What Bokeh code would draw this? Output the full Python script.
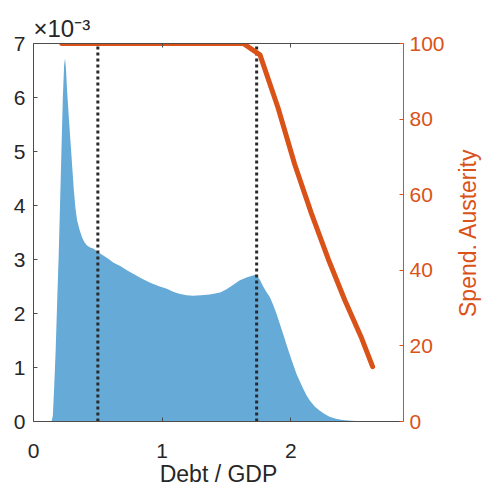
import math
from bokeh.plotting import figure
from bokeh.models import Range1d, LinearAxis, FixedTicker, Title
from bokeh.embed import file_html
from bokeh.resources import INLINE

# ---- data ----
debt_x = [0.140, 0.150, 0.160, 0.172, 0.185, 0.196, 0.206, 0.217, 0.228, 0.238,
          0.245, 0.252, 0.261, 0.274, 0.287, 0.300, 0.313, 0.326, 0.339, 0.358,
          0.377, 0.396, 0.416, 0.440, 0.468, 0.506, 0.545, 0.584, 0.622, 0.674,
          0.726, 0.778, 0.840, 0.907, 0.970, 1.036, 1.090, 1.140, 1.190, 1.240,
          1.300, 1.370, 1.450, 1.500, 1.550, 1.600, 1.660, 1.700, 1.730, 1.760,
          1.785, 1.810, 1.837, 1.862, 1.889, 1.915, 1.940, 1.965, 1.990, 2.017,
          2.044, 2.070, 2.095, 2.120, 2.147, 2.185, 2.225, 2.262, 2.300, 2.350,
          2.400, 2.470, 2.550, 2.620]
density_e3 = [0, 0.1, 0.6, 1.3, 2.3, 3.1, 4.0, 5.0, 6.0, 6.6,
              6.72, 6.55, 6.13, 5.65, 5.2, 4.75, 4.3, 3.95, 3.72, 3.55,
              3.41, 3.32, 3.26, 3.22, 3.2, 3.13, 3.07, 3.01, 2.94, 2.88,
              2.80, 2.73, 2.65, 2.57, 2.51, 2.46, 2.40, 2.36, 2.34, 2.33,
              2.34, 2.35, 2.39, 2.45, 2.53, 2.61, 2.67, 2.70, 2.72, 2.62,
              2.50, 2.40, 2.30, 2.16, 1.99, 1.80, 1.62, 1.43, 1.25, 1.06,
              0.88, 0.74, 0.61, 0.49, 0.39, 0.28, 0.20, 0.14, 0.09, 0.05,
              0.03, 0.012, 0.004, 0]

aust_x = [0.22, 1.63, 1.76, 1.90, 2.03, 2.16, 2.29, 2.42, 2.55, 2.635]
aust_y = [100, 100, 97, 83, 68, 55, 43, 32, 22, 14.5]

threshold_x = [0.50, 1.734]

x_ticks = [0, 1, 2]
y_ticks = [0, 1, 2, 3, 4, 5, 6, 7]
y2_ticks = [0, 20, 40, 60, 80, 100]

multiplier_text = "\u00d710\u207b\u00b3"
right_label = "Spend. Austerity"
x_label = "Debt / GDP"

BLUE = "#66AAD7"
ORANGE = "#D95319"
AXC = "#4d4d4d"
TXT = "#262626"
FONT = "Liberation Sans"
TICK_FS = "21px"
LAB_FS = "23px"

p = figure(frame_width=370, frame_height=378,
           x_range=Range1d(0, 2.875), y_range=Range1d(0, 7),
           output_backend="svg", toolbar_location=None,
           min_border_left=33, min_border_top=43,
           min_border_right=78, min_border_bottom=64,
           background_fill_color="white", border_fill_color="white")
p.extra_y_ranges = {"aust": Range1d(0, 100)}
p.outline_line_color = None
p.grid.visible = False

p.varea(x=debt_x, y1=0, y2=density_e3, fill_color=BLUE, fill_alpha=1.0)

for tx in threshold_x:
    p.segment(x0=tx, y0=0, x1=tx, y1=7, line_color="#2a2a2a",
              line_width=3, line_dash="3 3")

p.line(aust_x, aust_y, y_range_name="aust", line_color=ORANGE,
       line_width=5, line_cap="round", line_join="round")

def style_axis(ax, color, tcolor):
    ax.axis_line_color = color
    ax.axis_line_width = 1
    ax.major_tick_line_color = color
    ax.major_tick_in = 4
    ax.major_tick_out = 0
    ax.minor_tick_line_color = None
    ax.major_label_text_font = FONT
    ax.major_label_text_font_size = TICK_FS
    ax.major_label_text_color = tcolor
    ax.axis_label_text_font = FONT
    ax.axis_label_text_font_size = LAB_FS
    ax.axis_label_text_font_style = "normal"
    ax.axis_label_text_color = tcolor

xa = p.xaxis[0]
style_axis(xa, AXC, TXT)
xa.ticker = FixedTicker(ticks=x_ticks)
xa.axis_label = x_label
xa.major_label_standoff = 22
xa.axis_label_standoff = 0

ya = p.yaxis[0]
style_axis(ya, AXC, TXT)
ya.ticker = FixedTicker(ticks=y_ticks)
ya.major_label_standoff = 8

ra = LinearAxis(y_range_name="aust", ticker=FixedTicker(ticks=y2_ticks))
style_axis(ra, ORANGE, ORANGE)
ra.major_label_standoff = 6
p.add_layout(ra, "right")

# right-hand title: an unlined axis whose single label reads bottom-to-top,
# starting so that the text is centred on the frame (text ~45% of the height)
title_start = 50 - 44.7 / 2
ta_r = LinearAxis(y_range_name="aust", ticker=FixedTicker(ticks=[title_start]),
                  major_label_overrides={title_start: right_label})
ta_r.axis_line_color = None
ta_r.major_tick_line_color = None
ta_r.minor_tick_line_color = None
ta_r.major_tick_in = 0
ta_r.major_tick_out = 0
ta_r.major_label_orientation = math.pi / 2
ta_r.major_label_standoff = 21
ta_r.major_label_text_font = FONT
ta_r.major_label_text_font_size = LAB_FS
ta_r.major_label_text_color = ORANGE
p.add_layout(ta_r, "right")

ta = LinearAxis(ticker=FixedTicker(ticks=x_ticks))
style_axis(ta, AXC, TXT)
ta.major_label_text_font_size = "0px"
ta.major_label_standoff = 0
ta.major_label_text_alpha = 0
p.add_layout(ta, "above")

p.add_layout(Title(text=multiplier_text, align="left", offset=0, standoff=4,
                   text_font=FONT, text_font_size="24px",
                   text_font_style="normal", text_color=TXT), "above")

open("out.html", "w").write(file_html(p, INLINE))
